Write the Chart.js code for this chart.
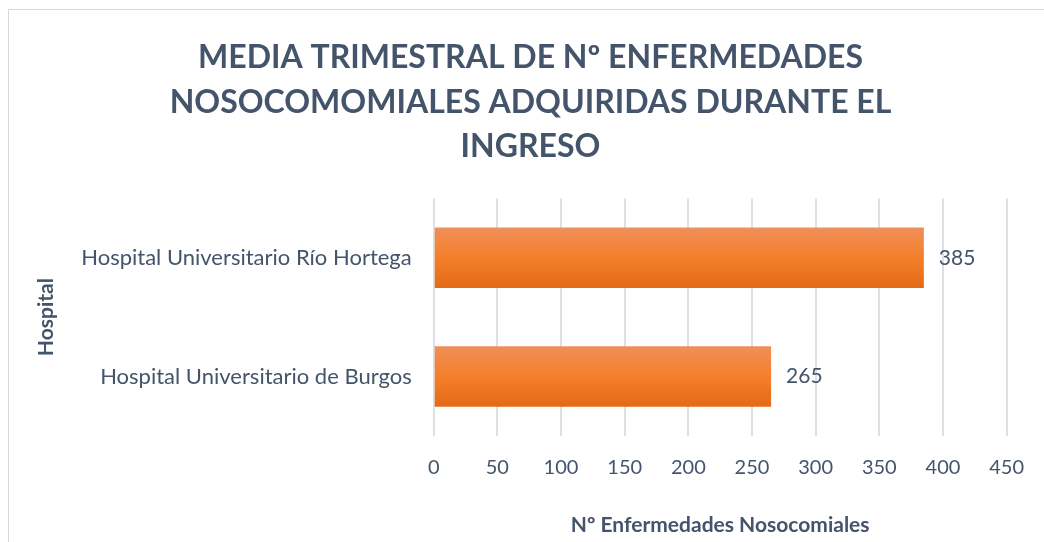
<!DOCTYPE html>
<html>
<head>
<meta charset="utf-8">
<script src="https://cdn.jsdelivr.net/npm/chart.js@4/dist/chart.umd.min.js"></script>
<style>
    html, body { margin: 0; padding: 0; background: #fff; }
    #wrap { position: relative; width: 1044px; height: 542px; overflow: hidden; }
    #frame { position: absolute; left: 8px; top: 9px; width: 1100px; height: 600px; border-top: 1px solid #d9d9d9; border-left: 1px solid #d9d9d9; }
    canvas { position: absolute; left: 0; top: 0; }
</style>
</head>
<body>
<div id="wrap">
    <div id="frame"></div>
    <canvas id="barChart" width="1044" height="542"></canvas>
</div>
<script>
const hospitales = ['Hospital Universitario Río Hortega', 'Hospital Universitario de Burgos'];
const mediaTrimestral = [385, 265];
const tituloLineas = ['MEDIA TRIMESTRAL DE Nº ENFERMEDADES', 'NOSOCOMOMIALES ADQUIRIDAS DURANTE EL', 'INGRESO'];
const tituloEjeX = 'Nº Enfermedades Nosocomiales';
const tituloEjeY = 'Hospital';

const textColor = '#44546a';
const fontFamily = 'Lato, "Open Sans", sans-serif';

// gradient per bar, top lighter, bottom darker
function barGradient(context) {
    const chart = context.chart;
    const yScale = chart.scales.y;
    if (!chart.chartArea || !yScale) return '#f47f2a';
    const center = yScale.getPixelForValue(context.dataIndex);
    const half = 30;
    const g = chart.ctx.createLinearGradient(0, center - half, 0, center + half);
    g.addColorStop(0, '#f08f5a');
    g.addColorStop(0.5, '#f47f2a');
    g.addColorStop(1, '#e46a18');
    return g;
}

// simple value labels at the end of each bar
const valueLabels = {
    id: 'valueLabels',
    afterDatasetsDraw(chart) {
        const ctx = chart.ctx;
        const meta = chart.getDatasetMeta(0);
        ctx.save();
        ctx.font = '21px ' + fontFamily;
        ctx.fillStyle = textColor;
        ctx.textAlign = 'left';
        ctx.textBaseline = 'middle';
        meta.data.forEach((bar, i) => {
            ctx.fillText(mediaTrimestral[i], bar.x + 15, bar.y);
        });
        ctx.restore();
    }
};

const ctx = document.getElementById('barChart').getContext('2d');
new Chart(ctx, {
    type: 'bar',
    data: {
        labels: hospitales,
        datasets: [{
            data: mediaTrimestral,
            backgroundColor: barGradient,
            borderWidth: 0,
            barPercentage: 0.51,
            categoryPercentage: 1
        }]
    },
    options: {
        indexAxis: 'y',
        responsive: false,
        animation: false,
        devicePixelRatio: 1,
        layout: { padding: { top: 35, left: 34, right: 17, bottom: 4 } },
        plugins: {
            legend: { display: false },
            tooltip: { enabled: false },
            title: {
                display: true,
                text: tituloLineas,
                color: textColor,
                font: { family: fontFamily, size: 32, weight: 'bold', lineHeight: 1.4 },
                padding: { top: 0, bottom: 29 }
            }
        },
        scales: {
            x: {
                min: 0,
                max: 450,
                ticks: { stepSize: 50, color: textColor, font: { family: fontFamily, size: 20 }, padding: 20 },
                grid: { color: '#dce1e8', lineWidth: 2, drawTicks: false },
                border: { display: false },
                title: {
                    display: true,
                    text: tituloEjeX,
                    color: textColor,
                    font: { family: fontFamily, size: 21, weight: 'bold' },
                    padding: { top: 13, bottom: 0 }
                }
            },
            y: {
                ticks: { color: textColor, font: { family: fontFamily, size: 22 }, padding: 22 },
                grid: { display: false, drawTicks: false },
                border: { display: false },
                title: {
                    display: true,
                    text: tituloEjeY,
                    color: textColor,
                    font: { family: fontFamily, size: 21, weight: 'bold' },
                    padding: { top: 0, bottom: 0 }
                }
            }
        }
    },
    plugins: [valueLabels]
});
</script>
</body>
</html>
